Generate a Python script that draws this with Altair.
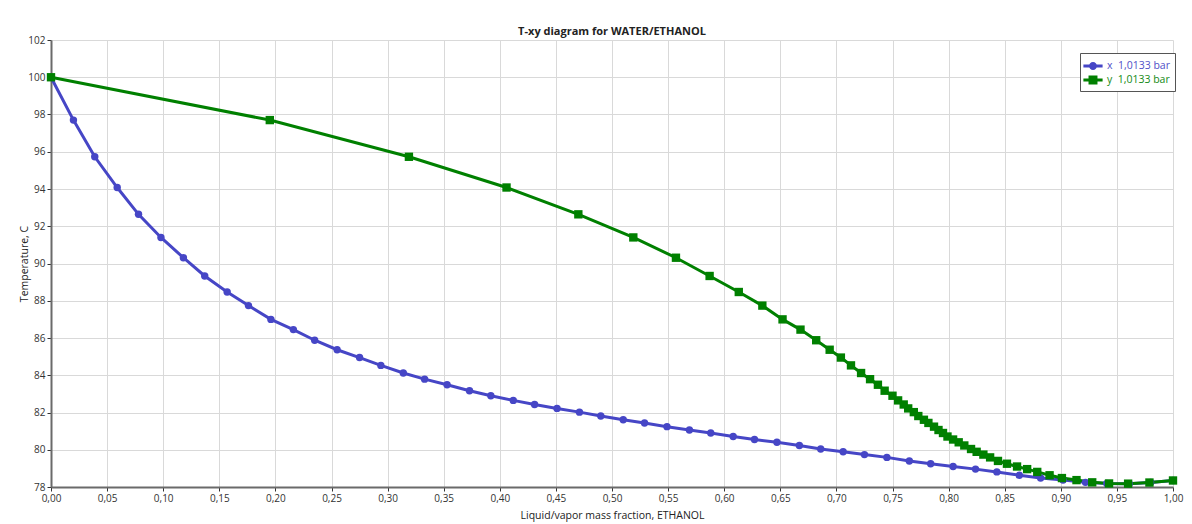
import altair as alt
import pandas as pd

# ---- data ----
TEMPERATURE = [100.0, 97.70, 95.73, 94.08, 92.64, 91.40, 90.31, 89.33, 88.47, 87.74,
               87.00, 86.45, 85.88, 85.37, 84.95, 84.53, 84.12, 83.79, 83.49, 83.17,
               82.90, 82.65, 82.43, 82.22, 82.02, 81.81, 81.61, 81.44, 81.24, 81.06,
               80.90, 80.71, 80.55, 80.40, 80.23, 80.04, 79.89, 79.74, 79.59, 79.40,
               79.25, 79.10, 78.96, 78.81, 78.63, 78.48, 78.37, 78.25, 78.19, 78.18,
               78.24, 78.35]
LIQUID_X = [0.000, 0.020, 0.039, 0.059, 0.078, 0.098, 0.118, 0.137, 0.157, 0.176,
            0.196, 0.216, 0.235, 0.255, 0.275, 0.294, 0.314, 0.333, 0.353, 0.373,
            0.392, 0.412, 0.431, 0.451, 0.471, 0.490, 0.510, 0.529, 0.549, 0.569,
            0.588, 0.608, 0.627, 0.647, 0.667, 0.686, 0.706, 0.725, 0.745, 0.765,
            0.784, 0.804, 0.824, 0.843, 0.863, 0.882, 0.902, 0.922, 0.941, 0.961,
            0.980, 1.000]
VAPOR_Y = [0.000, 0.195, 0.319, 0.406, 0.470, 0.519, 0.557, 0.587, 0.613, 0.634,
           0.652, 0.668, 0.682, 0.694, 0.704, 0.713, 0.722, 0.730, 0.737, 0.743,
           0.750, 0.755, 0.760, 0.764, 0.769, 0.773, 0.778, 0.782, 0.787, 0.791,
           0.795, 0.799, 0.804, 0.809, 0.814, 0.820, 0.825, 0.831, 0.837, 0.844,
           0.852, 0.861, 0.870, 0.879, 0.890, 0.901, 0.914, 0.928, 0.943, 0.960,
           0.979, 1.000]
SERIES = ["x\u00a0\u00a01,0133 bar", "y\u00a0\u00a01,0133 bar"]
COLORS = ["#4646c6", "#008000"]
LABEL_COLORS = ["#5050c8", "#148a14"]
X_TICKS = [0.00, 0.05, 0.10, 0.15, 0.20, 0.25, 0.30, 0.35, 0.40, 0.45, 0.50,
           0.55, 0.60, 0.65, 0.70, 0.75, 0.80, 0.85, 0.90, 0.95, 1.00]
Y_TICKS = [78, 80, 82, 84, 86, 88, 90, 92, 94, 96, 98, 100, 102]

rows = []
for i, (t, xl, yv) in enumerate(zip(TEMPERATURE, LIQUID_X, VAPOR_Y)):
    rows.append({"frac": xl, "T": t, "series": SERIES[0], "idx": i})
    rows.append({"frac": yv, "T": t, "series": SERIES[1], "idx": i})
df = pd.DataFrame(rows)

FONT = "Open Sans"

x_enc = alt.X(
    "frac:Q",
    scale=alt.Scale(domain=[0, 1], nice=False, zero=False),
    axis=alt.Axis(
        values=X_TICKS,
        labelExpr="replace(format(datum.value, '.2f'), '.', ',')",
        title="Liquid/vapor mass fraction, ETHANOL",
        labelFlush=False,
        labelOverlap=False,
        titlePadding=7,
    ),
)
y_enc = alt.Y(
    "T:Q",
    scale=alt.Scale(domain=[78, 102], nice=False, zero=False),
    axis=alt.Axis(values=Y_TICKS, title="Temperature, C", labelFlush=False,
                  labelOverlap=False, titlePadding=-2),
)
color_scale = alt.Scale(domain=SERIES, range=COLORS)

base = alt.Chart(df).encode(x=x_enc, y=y_enc)

PATH_LINE_CIRCLE = ("M-1.2,-0.19L1.2,-0.19L1.2,0.19L-1.2,0.19Z "
                    "M-0.5,0A0.5,0.5 0 1,1 0.5,0A0.5,0.5 0 1,1 -0.5,0Z")
PATH_LINE_SQUARE = ("M-1.2,-0.19L1.2,-0.19L1.2,0.19L-1.2,0.19Z "
                    "M-0.56,-0.56L0.56,-0.56L0.56,0.56L-0.56,0.56Z")

legend = alt.Legend(
    title=None,
    orient="none",
    legendX=1029,
    legendY=13,
    strokeColor="#555555",
    fillColor="white",
    padding=5,
    symbolSize=256,
    symbolOpacity=1,
    symbolStrokeWidth=0,
    labelOffset=6,
    rowPadding=0,
    labelFont=FONT,
    labelFontSize=10.5,
    labelColor=alt.ExprRef(
        "datum.value == '" + SERIES[0] + "' ? '" + LABEL_COLORS[0] + "' : '" + LABEL_COLORS[1] + "'"
    ),
    cornerRadius=0,
)

color_enc = alt.Color("series:N", scale=color_scale, legend=legend)

# legend-only layer (no rows drawn), placed first so its legend settings win
leg = base.transform_filter("false").mark_point(filled=True, opacity=1).encode(
    color=color_enc,
    shape=alt.Shape("series:N",
                    scale=alt.Scale(domain=SERIES, range=[PATH_LINE_CIRCLE, PATH_LINE_SQUARE]),
                    legend=legend),
)
lines = base.mark_line(strokeWidth=3).encode(color=color_enc, order="idx:Q")
pts_x = base.transform_filter(alt.datum.series == SERIES[0]).mark_point(
    shape="circle", filled=True, size=55, opacity=1
).encode(color=color_enc)
pts_y = base.transform_filter(alt.datum.series == SERIES[1]).mark_point(
    shape="square", filled=True, size=70, opacity=1
).encode(color=color_enc)

chart = alt.layer(leg, lines, pts_x, pts_y).properties(
    width=1122,
    height=447,
    title=alt.TitleParams("T-xy diagram for WATER/ETHANOL", font=FONT, fontSize=11,
                          fontWeight="bold", color="#222222", anchor="middle", offset=-2),
    autosize=alt.AutoSizeParams(type="none"),
    padding={"left": 43, "top": 32, "right": 11, "bottom": 36},
    background="white",
).configure_view(stroke=None).configure_axis(
    labelFont=FONT,
    labelFontSize=10,
    labelColor="#333333",
    titleFont=FONT,
    titleFontSize=10.5,
    titleFontWeight="normal",
    titleColor="#222222",
    gridColor="#d9d9d9",
    gridWidth=1,
    domainColor="#6a6a6a",
    domainWidth=2,
    tickColor="#333333",
    tickSize=4,
    labelPadding=2,
)

chart.save("out.html", embed_options={"renderer": "svg", "actions": False})
